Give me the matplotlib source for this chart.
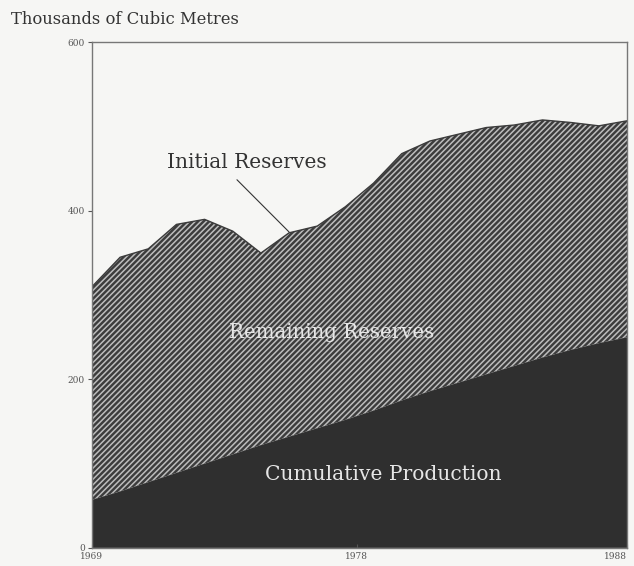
import matplotlib
matplotlib.use("Agg")
from matplotlib import pyplot as plt

# data (thousands of cubic metres)
years = list(range(1969, 1989))
initial_reserves = [310, 345, 355, 384, 390, 376, 350, 374, 382, 405,
                    433, 468, 483, 491, 499, 502, 508, 505, 501, 507]
cumulative_production = [57, 67, 78, 89, 100, 111, 122, 132, 142, 152,
                         163, 175, 186, 196, 206, 216, 226, 235, 243, 250]
y_ticks = [0, 200, 400, 600]
x_ticks = [1969, 1978.4, 1988]
x_labels = ["1969", "1978", "1988"]

plt.rcParams["hatch.linewidth"] = 1.1
plt.rcParams["font.family"] = ["DejaVu Serif"]

paper = "#f6f6f4"
fig = plt.figure(figsize=(6.34, 5.66), dpi=100, facecolor=paper)
ax = fig.add_axes([0.145, 0.032, 0.844, 0.893], facecolor=paper)

# remaining reserves (hatched) between production and initial reserves
ax.fill_between(years, cumulative_production, initial_reserves,
                facecolor="#3c3c3c", edgecolor="#bdbdbd", hatch="//////",
                linewidth=0)
ax.plot(years, initial_reserves, color="#3c3c3c", linewidth=1)
# cumulative production (solid dark)
ax.fill_between(years, 0, cumulative_production, facecolor="#2f2f2f",
                linewidth=0)

ax.set_xlim(1969, 1988)
ax.set_ylim(0, 600)
ax.set_yticks(y_ticks)
ax.set_yticklabels([str(v) for v in y_ticks])
ax.set_xticks(x_ticks)
ax.set_xticklabels(x_labels)
ax.tick_params(axis="both", labelsize=6.5, colors="#555555", length=3,
               width=0.8, pad=2)
ax.tick_params(axis="x", direction="in", pad=3)
ax.get_xticklabels()[-1].set_ha("right")
for side in ["left", "top", "right", "bottom"]:
    ax.spines[side].set_color("#777777")
    ax.spines[side].set_linewidth(1.0)

# labels on the chart
ax.text(1974.5, 457, "Initial Reserves", ha="center", va="center",
        fontsize=14.5, color="#333333")
ax.annotate("", xy=(1976.0, 375), xytext=(1974.15, 437),
            arrowprops=dict(arrowstyle="-", color="#333333", lw=0.8,
                            shrinkA=0, shrinkB=0))
ax.text(1977.5, 256, "Remaining Reserves", ha="center", va="center",
        fontsize=14.2, color="#e6e6e6")
ax.text(1979.35, 87, "Cumulative Production", ha="center", va="center",
        fontsize=14.6, color="#e6e6e6")

fig.text(0.018, 0.965, "Thousands of Cubic Metres", ha="left", va="center",
         fontsize=11.8, color="#333333")

plt.savefig("out.png", dpi=100, facecolor=paper)
